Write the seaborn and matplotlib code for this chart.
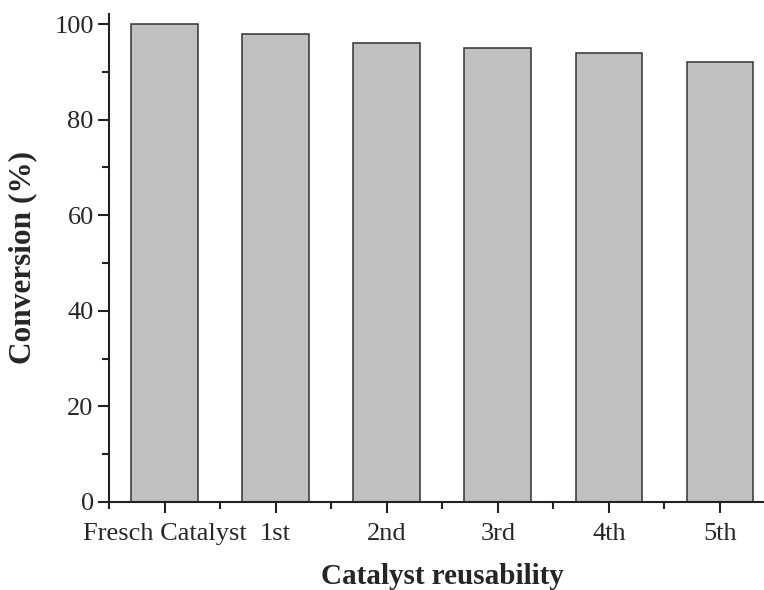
import numpy as np
import pandas as pd
import seaborn as sns
import matplotlib.pyplot as plt
from matplotlib.ticker import MultipleLocator, FixedLocator

# 数据
cycles = ['Fresch Catalyst', '1st', '2nd', '3rd', '4th', '5th']
conversion = [100, 98, 96, 95, 94, 92]

sns.set_style('ticks')
plt.rcParams['font.family'] = ['Liberation Serif', 'DejaVu Serif']

df = pd.DataFrame({'cycle': cycles, 'conversion': conversion})

fig = plt.figure(figsize=(7.64, 5.90), dpi=100)
ax = fig.add_axes([109 / 764, 88 / 590, (775.5 - 109) / 764, 488 / 590])

sns.barplot(data=df, x='cycle', y='conversion', color='#c0c0c0',
            edgecolor='#333333', linewidth=1.1, width=0.6, saturation=1, ax=ax)

ax.set_xlim(-0.5, 5.5)
ax.set_ylim(0, 102.1)
ax.yaxis.set_major_locator(MultipleLocator(20))
ax.yaxis.set_minor_locator(MultipleLocator(10))
ax.xaxis.set_minor_locator(FixedLocator(np.arange(-0.5, 6, 1)))

for s in ['top', 'right']:
    ax.spines[s].set_visible(False)
for s in ['left', 'bottom']:
    ax.spines[s].set_linewidth(1.5)
    ax.spines[s].set_color('#222222')

ax.tick_params(which='major', length=8, width=1.5, color='#222222')
ax.tick_params(which='minor', length=5, width=1.5, color='#222222')
ax.tick_params(axis='x', which='major', labelsize=19, pad=7)
ax.tick_params(axis='y', which='major', labelsize=19, pad=3)

ax.set_xlabel('Catalyst reusability', fontsize=21, fontweight='bold', labelpad=13)
ax.set_ylabel('Conversion (%)', fontsize=22.5, fontweight='bold', labelpad=12)

fig.savefig('out.png', dpi=100)
